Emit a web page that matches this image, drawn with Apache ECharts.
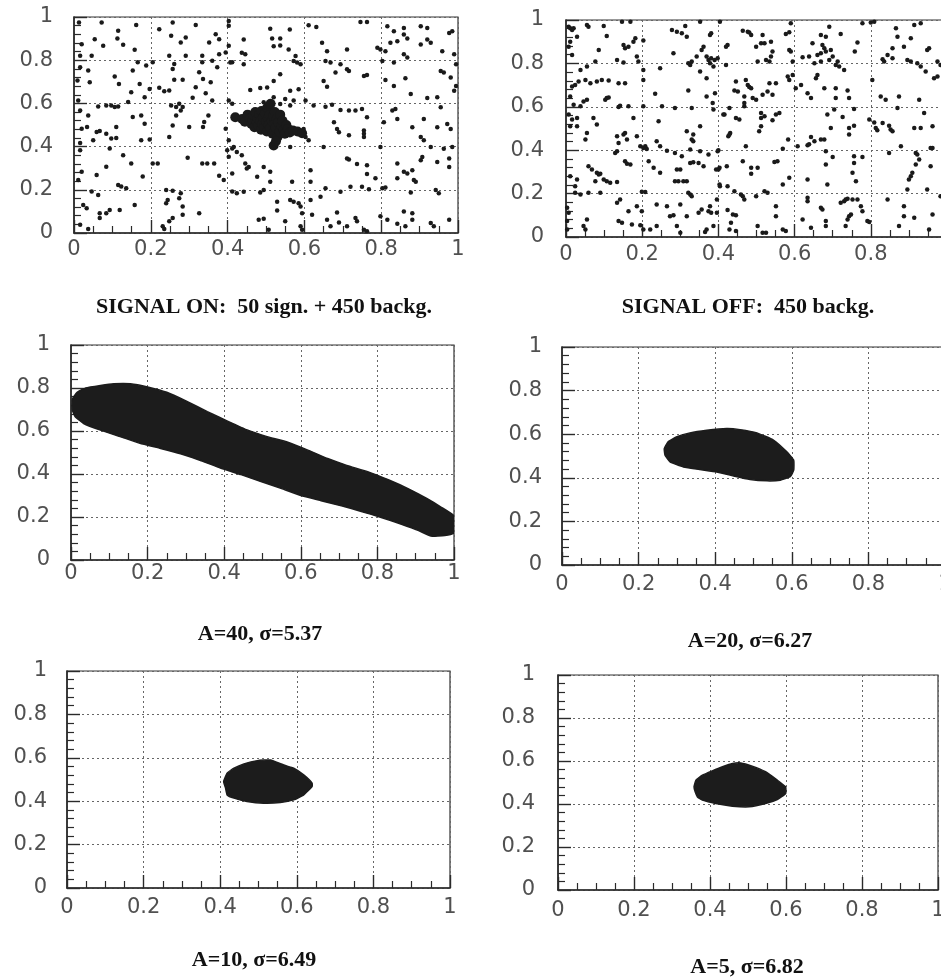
<!DOCTYPE html>
<html>
<head>
<meta charset="utf-8">
<script src="https://cdn.jsdelivr.net/npm/echarts@6/dist/echarts.min.js"></script>
<style>
html,body{margin:0;padding:0;background:#fff;}
#chart{width:941px;height:978px;}
</style>
</head>
<body>
<div id="chart"></div>
<script>
// ---------------- DATA ----------------
const tickLabels = ['0', '0.2', '0.4', '0.6', '0.8', '1'];
const captions = ['SIGNAL ON:  50 sign. + 450 backg.', 'SIGNAL OFF:  450 backg.',
  'A=40, \u03c3=5.37', 'A=20, \u03c3=6.27', 'A=10, \u03c3=6.49', 'A=5, \u03c3=6.82'];

// Signal-on panel: background points
const onBackground = [
[.013,.974],[.072,.974],[.162,.963],[.222,.943],[.257,.974],[.317,.963],[.369,.92],[.403,.982],[.403,.959],[.115,.936],
[.054,.897],[.02,.874],[.076,.867],[.128,.871],[.158,.848],[.278,.882],[.291,.905],[.253,.913],[.352,.882],[.378,.897],
[.403,.867],[.113,.9],[.016,.821],[.046,.821],[.166,.79],[.188,.775],[.205,.79],[.248,.821],[.261,.782],[.291,.821],
[.334,.821],[.334,.79],[.36,.798],[.378,.828],[.395,.836],[.412,.79],[.016,.767],[.037,.752],[.373,.767],[.257,.759],
[.153,.752],[.106,.724],[.117,.69],[.171,.69],[.197,.667],[.222,.672],[.235,.656],[.248,.66],[.283,.709],[.326,.744],
[.336,.713],[.356,.698],[.041,.698],[.009,.706],[.317,.675],[.261,.71],[.149,.652],[.184,.629],[.063,.586],[.084,.59],
[.097,.59],[.106,.583],[.115,.586],[.141,.606],[.253,.59],[.266,.583],[.283,.583],[.278,.567],[.309,.626],[.343,.647],
[.36,.613],[.403,.613],[.412,.598],[.011,.613],[.016,.567],[.274,.598],[.037,.544],[.153,.537],[.175,.544],[.266,.544],
[.35,.544],[.034,.491],[.059,.468],[.11,.491],[.184,.506],[.3,.491],[.336,.491],[.339,.514],[.395,.483],[.02,.483],
[.257,.498],[.067,.472],[.084,.46],[.097,.437],[.11,.44],[.175,.429],[.197,.433],[.248,.445],[.403,.429],[.016,.417],
[.05,.429],[.093,.391],[.399,.383],[.412,.391],[.016,.383],[.128,.36],[.205,.322],[.218,.322],[.296,.348],[.334,.322],
[.347,.322],[.365,.322],[.403,.353],[.084,.307],[.149,.322],[.02,.284],[.011,.245],[.059,.268],[.179,.261],[.378,.265],
[.39,.245],[.412,.276],[.115,.222],[.123,.215],[.046,.192],[.063,.176],[.24,.199],[.257,.196],[.278,.184],[.274,.161],
[.136,.207],[.158,.13],[.244,.153],[.24,.138],[.024,.13],[.033,.115],[.412,.192],[.067,.092],[.084,.092],[.093,.107],
[.119,.107],[.067,.069],[.283,.084],[.326,.092],[.283,.123],[.257,.069],[.248,.054],[.231,.031],[.235,.018],[.037,.018],
[.016,.038],
[.511,.946],[.562,.942],[.611,.962],[.631,.954],[.746,.977],[.763,.977],[.816,.957],[.833,.934],[.859,.949],[.859,.919],
[.903,.957],[.92,.949],[.977,.926],[.985,.934],[.442,.896],[.516,.9],[.537,.9],[.92,.896],[.929,.881],[.903,.873],
[.842,.888],[.868,.9],[.79,.858],[.798,.85],[.824,.881],[.437,.835],[.446,.827],[.52,.865],[.537,.868],[.559,.85],
[.577,.819],[.572,.796],[.581,.789],[.59,.781],[.646,.881],[.659,.842],[.711,.85],[.655,.796],[.668,.789],[.694,.781],
[.811,.842],[.803,.796],[.833,.789],[.859,.827],[.868,.812],[.959,.842],[.99,.827],[.995,.781],[.407,.789],[.442,.781],
[.537,.735],[.52,.704],[.503,.674],[.485,.671],[.459,.662],[.563,.658],[.585,.666],[.65,.704],[.659,.677],[.681,.743],
[.711,.758],[.716,.75],[.755,.727],[.763,.732],[.811,.708],[.833,.681],[.863,.717],[.877,.643],[.955,.75],[.963,.743],
[.981,.72],[.99,.658],[.995,.681],[.92,.625],[.946,.628],[.52,.628],[.55,.62],[.572,.613],[.603,.613],[.624,.59],
[.655,.585],[.672,.594],[.694,.57],[.716,.567],[.733,.567],[.75,.574],[.829,.567],[.837,.574],[.955,.582],[.563,.59],
[.537,.597],[.494,.605],[.763,.536],[.807,.513],[.842,.528],[.881,.49],[.911,.528],[.946,.49],[.972,.505],[.981,.482],
[.677,.513],[.685,.482],[.69,.467],[.755,.475],[.755,.459],[.755,.444],[.65,.398],[.611,.429],[.603,.444],[.598,.482],
[.716,.452],[.798,.398],[.903,.444],[.911,.429],[.929,.398],[.963,.39],[.985,.398],[.563,.398],[.416,.398],[.424,.375],
[.437,.36],[.446,.322],[.455,.306],[.45,.299],[.494,.306],[.511,.283],[.477,.26],[.511,.237],[.568,.237],[.616,.291],
[.616,.237],[.711,.345],[.716,.34],[.737,.319],[.763,.314],[.763,.273],[.785,.253],[.842,.322],[.842,.253],[.859,.283],
[.868,.276],[.881,.291],[.885,.245],[.89,.237],[.903,.337],[.907,.352],[.946,.329],[.977,.345],[.977,.306],[.424,.184],
[.442,.191],[.485,.187],[.494,.199],[.529,.145],[.563,.153],[.572,.145],[.585,.138],[.59,.123],[.616,.153],[.642,.168],
[.655,.207],[.694,.191],[.72,.214],[.75,.214],[.768,.202],[.803,.207],[.811,.211],[.877,.187],[.942,.199],[.95,.184],
[.529,.104],[.594,.092],[.62,.084],[.659,.061],[.668,.031],[.685,.095],[.69,.049],[.711,.031],[.733,.069],[.737,.054],
[.755,.015],[.763,.008],[.798,.077],[.816,.061],[.842,.043],[.859,.1],[.881,.092],[.881,.061],[.863,.031],[.929,.046],
[.937,.031],[.977,.061],[.481,.061],[.494,.066],[.507,.015],[.55,.054],[.59,.031],[.594,.015]
];

// Signal-on panel: the 50 signal points (dense cluster)
const onSignal = [
[.420,.536],[.438,.528],[.445,.515],[.452,.548],[.458,.530],[.462,.505],[.465,.520],[.468,.545],[.470,.490],[.472,.560],
[.476,.512],[.478,.530],[.480,.498],[.482,.548],[.485,.520],[.487,.478],[.488,.565],[.490,.505],[.492,.535],[.495,.490],
[.497,.552],[.500,.515],[.502,.470],[.503,.580],[.505,.530],[.507,.500],[.509,.545],[.511,.485],[.512,.598],[.515,.520],
[.517,.460],[.519,.540],[.521,.505],[.523,.560],[.525,.488],[.528,.528],[.530,.445],[.532,.512],[.535,.470],[.537,.548],
[.540,.495],[.543,.520],[.546,.478],[.549,.460],[.553,.500],[.557,.482],[.562,.465],[.570,.475],[.582,.470],[.594,.462],
[.520,.405],[.526,.425]
];

// Signal-off panel: background points
const offBackground = [
[.007,.969],[.011,.962],[.016,.954],[.02,.962],[.055,.977],[.059,.969],[.099,.972],[.107,.926],[.147,.992],[.169,.992],
[.182,.916],[.177,.9],[.164,.877],[.155,.87],[.151,.885],[.203,.905],[.278,.954],[.291,.946],[.304,.939],[.313,.972],
[.317,.923],[.352,.992],[.378,.931],[.404,.992],[.029,.923],[.086,.862],[.011,.9],[.007,.877],[.016,.839],[.055,.786],
[.038,.77],[.077,.809],[.134,.816],[.151,.804],[.186,.832],[.19,.809],[.247,.778],[.282,.847],[.321,.801],[.326,.793],
[.33,.809],[.343,.832],[.356,.862],[.361,.877],[.369,.832],[.374,.816],[.378,.801],[.387,.786],[.352,.763],[.369,.732],
[.203,.77],[.024,.701],[.016,.694],[.033,.717],[.051,.724],[.064,.709],[.081,.717],[.094,.724],[.112,.721],[.138,.709],
[.155,.709],[.203,.724],[.234,.66],[.321,.675],[.369,.648],[.391,.663],[.046,.625],[.055,.632],[.103,.632],[.107,.64],
[.112,.643],[.011,.648],[.02,.61],[.038,.602],[.138,.599],[.142,.605],[.164,.602],[.203,.602],[.252,.602],[.286,.594],
[.33,.594],[.387,.587],[.007,.564],[.016,.541],[.029,.548],[.072,.548],[.081,.518],[.177,.548],[.243,.533],[.011,.51],
[.029,.51],[.317,.487],[.334,.472],[.352,.51],[.413,.564],[.431,.479],[.055,.479],[.051,.449],[.134,.464],[.151,.472],
[.155,.479],[.16,.449],[.186,.464],[.138,.433],[.134,.395],[.129,.387],[.195,.418],[.203,.41],[.208,.418],[.212,.406],
[.238,.441],[.247,.418],[.265,.398],[.286,.387],[.304,.372],[.326,.403],[.33,.449],[.334,.441],[.352,.395],[.374,.38],
[.4,.4],[.426,.464],[.155,.349],[.16,.338],[.169,.334],[.217,.349],[.23,.319],[.247,.296],[.291,.311],[.3,.311],
[.326,.341],[.334,.345],[.348,.341],[.361,.326],[.4,.311],[.059,.326],[.068,.311],[.081,.296],[.086,.288],[.09,.292],
[.099,.265],[.107,.257],[.116,.25],[.134,.253],[.077,.257],[.011,.28],[.029,.265],[.024,.234],[.286,.257],[.295,.257],
[.308,.257],[.317,.257],[.321,.204],[.326,.196],[.33,.188],[.404,.234],[.422,.326],[.024,.204],[.038,.196],[.059,.204],
[.09,.204],[.134,.158],[.142,.173],[.199,.208],[.208,.207],[.186,.142],[.199,.119],[.238,.15],[.265,.142],[.273,.096],
[.282,.1],[.3,.15],[.317,.096],[.348,.112],[.356,.127],[.374,.119],[.378,.142],[.396,.173],[.164,.119],[.003,.135],
[.007,.112],[.055,.081],[.051,.035],[.046,.051],[.138,.074],[.147,.066],[.173,.058],[.195,.054],[.203,.035],[.221,.035],
[.238,.051],[.291,.051],[.3,.02],[.369,.035],[.365,.023],[.387,.051],[.396,.112],[.003,.074],[.003,.035],
[.464,.951],[.477,.946],[.481,.942],[.486,.931],[.516,.931],[.577,.936],[.586,.943],[.59,.985],[.691,.969],[.669,.931],
[.682,.923],[.721,.936],[.647,.893],[.673,.885],[.678,.87],[.695,.862],[.682,.855],[.669,.847],[.66,.839],[.765,.896],
[.758,.855],[.778,.985],[.8,.988],[.809,.992],[.866,.962],[.87,.923],[.905,.916],[.914,.977],[.931,.985],[.953,.87],
[.948,.862],[.857,.87],[.844,.839],[.887,.877],[.424,.885],[.42,.877],[.499,.877],[.512,.893],[.521,.893],[.538,.9],
[.542,.855],[.586,.862],[.59,.855],[.381,.939],[.538,.832],[.534,.809],[.525,.816],[.503,.809],[.381,.824],[.39,.816],
[.398,.824],[.42,.793],[.595,.809],[.621,.828],[.638,.832],[.652,.801],[.669,.809],[.691,.816],[.7,.832],[.713,.809],
[.708,.793],[.717,.786],[.73,.77],[.835,.809],[.831,.819],[.857,.824],[.896,.816],[.905,.809],[.922,.801],[.931,.786],
[.944,.763],[.975,.809],[.983,.793],[.446,.717],[.472,.724],[.477,.701],[.481,.691],[.486,.686],[.442,.675],[.451,.671],
[.468,.648],[.49,.64],[.499,.632],[.516,.655],[.529,.671],[.542,.655],[.534,.709],[.551,.709],[.582,.74],[.586,.724],
[.595,.747],[.603,.686],[.617,.701],[.634,.663],[.643,.64],[.656,.732],[.66,.747],[.678,.686],[.708,.686],[.739,.675],
[.708,.64],[.743,.64],[.804,.724],[.826,.648],[.839,.632],[.874,.648],[.927,.632],[.975,.74],[.966,.732],[.385,.617],
[.429,.594],[.468,.602],[.468,.617],[.512,.571],[.512,.548],[.521,.556],[.542,.538],[.551,.564],[.56,.571],[.416,.564],
[.446,.548],[.455,.541],[.686,.564],[.704,.587],[.726,.553],[.756,.59],[.796,.541],[.809,.528],[.813,.502],[.817,.492],
[.831,.525],[.848,.513],[.852,.495],[.857,.487],[.87,.594],[.914,.502],[.931,.502],[.94,.571],[.962,.51],[.512,.51],
[.507,.487],[.695,.502],[.743,.502],[.756,.513],[.743,.472],[.429,.472],[.472,.418],[.464,.349],[.486,.319],[.486,.292],
[.503,.319],[.547,.346],[.555,.349],[.569,.407],[.583,.449],[.608,.418],[.634,.423],[.638,.427],[.643,.461],[.652,.441],
[.669,.449],[.678,.449],[.682,.395],[.7,.369],[.682,.334],[.756,.372],[.778,.369],[.756,.341],[.848,.387],[.879,.418],
[.918,.387],[.922,.38],[.927,.357],[.957,.41],[.962,.41],[.957,.326],[.398,.395],[.403,.319],[.394,.311],[.918,.334],
[.403,.242],[.424,.234],[.442,.211],[.459,.196],[.464,.188],[.468,.173],[.499,.188],[.521,.211],[.529,.204],[.569,.242],
[.586,.273],[.634,.265],[.634,.181],[.634,.165],[.686,.242],[.752,.296],[.761,.257],[.721,.158],[.73,.165],[.734,.173],
[.739,.176],[.752,.173],[.765,.173],[.844,.173],[.9,.265],[.905,.28],[.909,.296],[.896,.219],[.948,.219],[.983,.188],
[.424,.124],[.438,.104],[.446,.1],[.433,.066],[.429,.035],[.446,.028],[.503,.051],[.516,.02],[.525,.02],[.551,.142],
[.551,.096],[.569,.035],[.577,.028],[.621,.081],[.643,.043],[.669,.135],[.673,.127],[.682,.074],[.682,.051],[.739,.081],
[.743,.096],[.748,.104],[.734,.051],[.774,.142],[.778,.119],[.791,.074],[.796,.069],[.874,.051],[.887,.096],[.887,.142],
[.914,.089],[.953,.035],[.962,.104],[.381,.112]
];

// Outlines of the filled regions (x, y)
const regionA40 = [
[0.003,0.70],[0.004,0.75],[0.016,0.78],[0.038,0.80],[0.077,0.812],[0.112,0.82],[0.155,0.82],[0.2,0.805],[0.25,0.78],
[0.30,0.74],[0.356,0.69],[0.41,0.645],[0.46,0.605],[0.51,0.575],[0.566,0.548],[0.62,0.51],[0.67,0.472],[0.72,0.44],
[0.776,0.41],[0.83,0.372],[0.88,0.332],[0.93,0.285],[0.967,0.245],[1.0,0.205],[1.0,0.125],[0.976,0.114],[0.94,0.111],
[0.906,0.138],[0.863,0.166],[0.81,0.198],[0.758,0.226],[0.706,0.252],[0.653,0.276],[0.60,0.300],[0.55,0.332],[0.496,0.365],
[0.444,0.397],[0.39,0.428],[0.34,0.462],[0.286,0.494],[0.234,0.519],[0.18,0.543],[0.13,0.573],[0.077,0.604],
[0.033,0.635],[0.011,0.666]
];
const regionA20 = [
[0.267,0.534],[0.277,0.565],[0.30,0.588],[0.334,0.606],[0.378,0.618],[0.43,0.626],[0.465,0.621],[0.509,0.606],
[0.552,0.573],[0.587,0.519],[0.605,0.481],[0.605,0.435],[0.596,0.405],[0.57,0.389],[0.535,0.386],[0.491,0.392],
[0.448,0.408],[0.404,0.427],[0.36,0.438],[0.317,0.45],[0.282,0.473],[0.269,0.504]
];
const regionA10 = [
[0.409,0.491],[0.418,0.529],[0.436,0.552],[0.462,0.572],[0.497,0.587],[0.531,0.59],[0.566,0.567],[0.592,0.552],
[0.618,0.521],[0.64,0.483],[0.64,0.468],[0.618,0.429],[0.592,0.406],[0.557,0.394],[0.514,0.391],[0.47,0.399],
[0.436,0.414],[0.418,0.429],[0.414,0.46]
];
const regionA5 = [
[0.358,0.48],[0.363,0.511],[0.38,0.534],[0.406,0.554],[0.433,0.573],[0.459,0.588],[0.481,0.591],[0.511,0.576],
[0.546,0.55],[0.577,0.511],[0.599,0.48],[0.599,0.449],[0.577,0.421],[0.546,0.402],[0.503,0.387],[0.459,0.39],
[0.415,0.402],[0.38,0.418],[0.367,0.433],[0.361,0.457]
];

// ---------------- LAYOUT ----------------
const panels = [
  {left:74,  top:17,  width:384, height:216, xm:6,  ym:21},
  {left:566, top:20,  width:381, height:217, xm:7,  ym:22},
  {left:71,  top:345, width:383, height:215, xm:3,  ym:21},
  {left:562, top:347, width:383, height:218, xm:9,  ym:20},
  {left:67,  top:671, width:383, height:217, xm:9,  ym:20},
  {left:558, top:675, width:380, height:215, xm:10, ym:23}
];
const captionPos = [[264,307],[748,307],[260,634],[750,641],[254,960],[747,967]];

const ink = '#1a1a1a';
const labelStyle = {fontFamily:'DejaVu Sans', fontSize:21, color:'#505050'};
const fmt = v => tickLabels[Math.round(v / 0.2)];

const grids = [], xAxes = [], yAxes = [];
panels.forEach((p, i) => {
  grids.push({left:p.left, top:p.top, width:p.width, height:p.height, show:true,
    borderColor:'#333', borderWidth:1.2, backgroundColor:'transparent', outerBoundsMode:'none', containLabel:false});
  const common = {
    gridIndex:i, type:'value', min:0, max:1, interval:0.2,
    axisLine:{show:true, onZero:false, lineStyle:{color:'#2a2a2a', width:1.6}},
    axisTick:{show:true, inside:true, length:13, lineStyle:{color:'#2a2a2a', width:1.4}},
    splitLine:{show:true, lineStyle:{type:[2,3], color:'#666', width:1}}
  };
  xAxes.push(Object.assign({}, common, {
    minorTick:{show:true, splitNumber:4, length:7, lineStyle:{color:'#2a2a2a', width:1.2}},
    axisLabel:Object.assign({margin:p.xm, formatter:fmt, showMaxLabel:true, showMinLabel:true}, labelStyle)
  }));
  yAxes.push(Object.assign({}, common, {
    minorTick:{show:true, splitNumber:5, length:7, lineStyle:{color:'#2a2a2a', width:1.2}},
    axisLabel:Object.assign({margin:p.ym, formatter:fmt, showMaxLabel:true, showMinLabel:true}, labelStyle)
  }));
});

function regionSeries(idx, outline) {
  return {
    type:'custom', xAxisIndex:idx, yAxisIndex:idx, clip:true, silent:true,
    data: outline, encode:{x:0, y:1},
    renderItem: function (params, api) {
      if (params.dataIndex !== 0) return null;
      const pts = outline.map(p => api.coord(p));
      return {type:'polygon', shape:{points:pts, smooth:0.12},
        style:{fill:'#1c1c1c', stroke:'#1c1c1c', lineWidth:1.5}};
    }
  };
}
function pointSeries(idx, pts, size) {
  return {type:'scatter', xAxisIndex:idx, yAxisIndex:idx, data:pts, symbol:'circle',
    symbolSize:size, itemStyle:{color:ink, opacity:1, borderWidth:0}, silent:true, clip:true};
}

const series = [
  pointSeries(0, onBackground, 4.5),
  pointSeries(0, onSignal, 10),
  pointSeries(1, offBackground, 4.5),
  regionSeries(2, regionA40),
  regionSeries(3, regionA20),
  regionSeries(4, regionA10),
  regionSeries(5, regionA5)
];

const graphic = captions.map((t, i) => ({
  type:'text', x:captionPos[i][0], y:captionPos[i][1], silent:true,
  style:{text:t, font:'bold 22px "Liberation Serif", "Times New Roman", serif', fill:'#111',
    textAlign:'center', textVerticalAlign:'middle'}
}));

const chart = echarts.init(document.getElementById('chart'), null, {renderer:'canvas'});
chart.setOption({
  animation:false,
  backgroundColor:'#fff',
  grid:grids, xAxis:xAxes, yAxis:yAxes, series:series, graphic:graphic
});
</script>
</body>
</html>
